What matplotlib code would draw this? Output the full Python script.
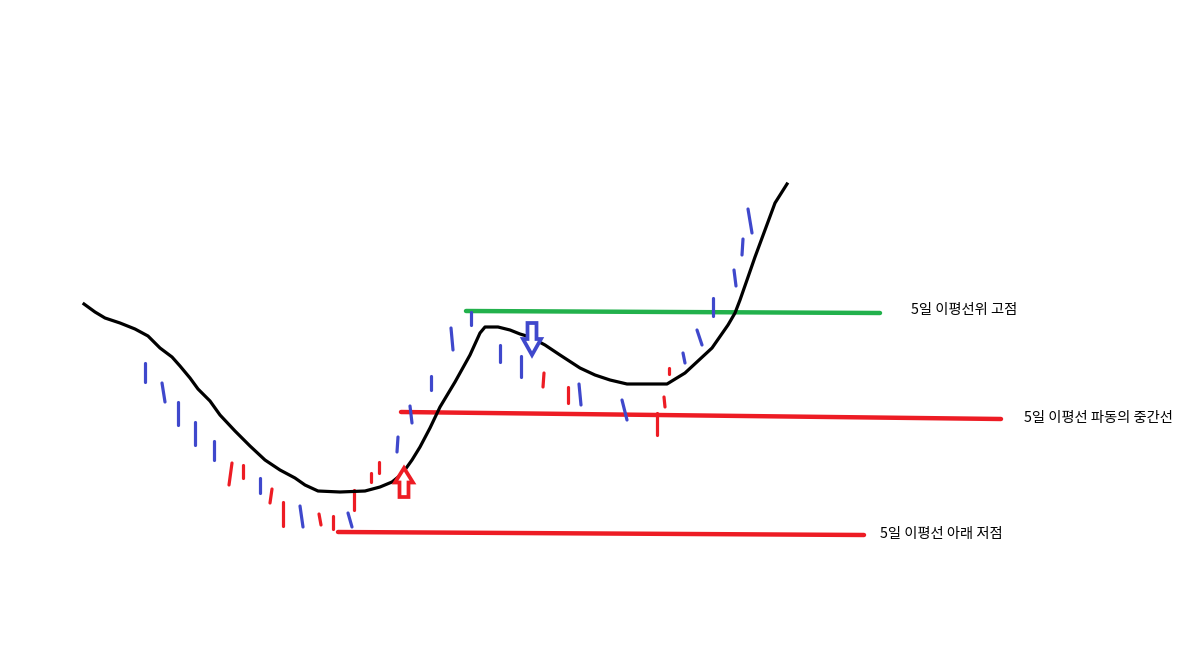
import matplotlib
matplotlib.use('Agg')
import matplotlib.pyplot as plt
from matplotlib.patches import Polygon

plt.rcParams['font.family'] = ['Noto Sans CJK KR', 'DejaVu Sans']

BLUE = '#3f48cc'
RED = '#ed1c24'
GREEN = '#22b14c'

# 5-day moving average curve (hand drawn), pixel coords
ma_x = [84, 95, 105, 120, 135, 148, 160, 172, 180, 190, 198, 210, 220, 235, 250, 265, 280, 295, 305, 318,
        340, 365, 380, 392, 402, 412, 420, 430, 440, 455, 470, 480, 485, 498, 510, 520, 530, 545, 560, 580,
        595, 610, 627, 645, 667, 685, 712, 728, 735, 740, 747, 755, 765, 775, 787]
ma_y = [304, 312, 318, 323, 329, 336, 348, 357, 366, 378, 389, 401, 415, 431, 446, 460, 470, 478, 485, 491,
        492, 491, 487, 482, 474, 460, 447, 428, 407, 382, 355, 333, 327, 327, 330, 334, 337, 345, 355, 368,
        375, 380, 384, 384, 384, 373, 348, 325, 313, 300, 280, 257, 230, 203, 184]

# candle ticks: x_top, y_top, x_bottom, y_bottom, colour
tick_xt = [145, 162, 178, 195, 214, 232, 243, 260, 272, 283, 300, 319, 333, 348, 354, 371, 379,
           398, 410, 431, 451, 471, 500, 521, 544, 568, 579, 622, 657, 664, 669, 683, 697, 713, 734, 743, 748]
tick_yt = [363, 383, 402, 422, 441, 463, 465, 478, 489, 502, 506, 514, 516, 513, 490, 473, 462,
           437, 406, 376, 328, 312, 345, 356, 373, 387, 384, 400, 413, 397, 368, 353, 330, 298, 270, 239, 209]
tick_xb = [145, 165, 178, 195, 214, 229, 243, 260, 270, 283, 303, 321, 333, 352, 354, 371, 379,
           397, 412, 431, 453, 471, 500, 521, 543, 568, 581, 627, 657, 665, 669, 685, 702, 713, 736, 742, 752]
tick_yb = [382, 402, 425, 445, 460, 485, 478, 493, 503, 526, 527, 525, 529, 527, 510, 482, 473,
           452, 423, 390, 350, 325, 362, 377, 387, 403, 405, 420, 435, 407, 374, 363, 345, 316, 286, 255, 233]
tick_c = ['b', 'b', 'b', 'b', 'b', 'r', 'r', 'b', 'r', 'r', 'b', 'r', 'r', 'b', 'r', 'r', 'r',
          'b', 'b', 'b', 'b', 'b', 'b', 'b', 'r', 'r', 'b', 'b', 'r', 'r', 'r', 'b', 'b', 'b', 'b', 'b', 'b']

# level lines: x0, y0, x1, y1
lvl_x0 = [466, 401, 338]
lvl_y0 = [311, 412, 532]
lvl_x1 = [880, 1001, 864]
lvl_y1 = [313, 419, 535]
lvl_col = [GREEN, RED, RED]
lvl_text = ['5일 이평선위 고점', '5일 이평선 파동의 중간선', '5일 이평선 아래 저점']
lvl_tx = [911, 1024, 880]
lvl_ty = [310, 418, 534]

# signal arrows: centre x, tip y, tail y, colour
arr_x = [404, 532]
arr_tip = [468, 355]
arr_tail = [497, 323]
arr_col = [RED, BLUE]


def arrow_shape(cx, tip, tail, head_w=9, shaft_w=4.5, head_frac=0.5):
    neck = tip + (tail - tip) * head_frac
    return [(cx, tip), (cx + head_w, neck), (cx + shaft_w, neck), (cx + shaft_w, tail),
            (cx - shaft_w, tail), (cx - shaft_w, neck), (cx - head_w, neck)]


fig = plt.figure(figsize=(11.97, 6.6), dpi=100)
ax = fig.add_axes([0, 0, 1, 1])
ax.set_xlim(0, 1197)
ax.set_ylim(660, 0)
ax.axis('off')

for i in range(len(lvl_x0)):
    ax.plot([lvl_x0[i], lvl_x1[i]], [lvl_y0[i], lvl_y1[i]], color=lvl_col[i], lw=3.2, solid_capstyle='round')
    ax.text(lvl_tx[i], lvl_ty[i], lvl_text[i], fontsize=10.3, va='center', ha='left', color='black')

for i in range(len(tick_xt)):
    c = BLUE if tick_c[i] == 'b' else RED
    ax.plot([tick_xt[i], tick_xb[i]], [tick_yt[i], tick_yb[i]], color=c, lw=2.3, solid_capstyle='round')

ax.plot(ma_x, ma_y, color='black', lw=2.3, solid_joinstyle='round')

for i in range(len(arr_x)):
    ax.add_patch(Polygon(arrow_shape(arr_x[i], arr_tip[i], arr_tail[i]), closed=True,
                         facecolor='white', edgecolor=arr_col[i], lw=2.7, zorder=5))

fig.savefig('out.png', dpi=100)
plt.close(fig)
